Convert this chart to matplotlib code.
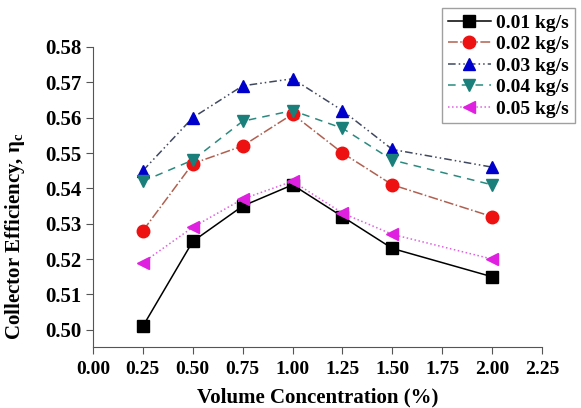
import numpy as np
import matplotlib.pyplot as plt

plt.rcParams['font.family'] = ['Liberation Serif', 'DejaVu Serif']
plt.rcParams['font.weight'] = 'bold'

conc = [0.25, 0.5, 0.75, 1.0, 1.25, 1.5, 2.0]
flow_labels = ['0.01 kg/s', '0.02 kg/s', '0.03 kg/s', '0.04 kg/s', '0.05 kg/s']
eff_001 = [0.501, 0.525, 0.535, 0.541, 0.532, 0.523, 0.515]
eff_002 = [0.528, 0.547, 0.552, 0.561, 0.550, 0.541, 0.532]
eff_003 = [0.545, 0.560, 0.569, 0.571, 0.562, 0.551, 0.546]
eff_004 = [0.542, 0.548, 0.559, 0.562, 0.557, 0.548, 0.541]
eff_005 = [0.519, 0.529, 0.537, 0.542, 0.533, 0.527, 0.520]

series = [eff_001, eff_002, eff_003, eff_004, eff_005]
markers = ['s', 'o', '^', 'v', '<']
mcolors = ['black', '#ee1111', '#0000cc', '#1a7f7a', '#e020e0']
lcolors = ['black', '#b06050', '#404860', '#2a8a80', '#e060e0']
styles = ['-', '-.', (0, (5, 2, 1, 2, 1, 2)), (0, (5, 4)), ':']

fig = plt.figure(figsize=(5.81, 4.08), dpi=100)
ax = fig.add_axes([0.16, 0.15, 0.773, 0.735])

for y, lab, m, mc, lc, ls in zip(series, flow_labels, markers, mcolors, lcolors, styles):
    ax.plot(conc, y, linestyle=ls, color=lc, linewidth=1.1, marker=m,
            markersize=9, markerfacecolor=mc, markeredgecolor=mc, label=lab)

ax.set_xlim(0, 2.25)
ax.set_ylim(0.4952, 0.58)
ax.set_xticks(np.arange(0, 2.26, 0.25))
ax.set_yticks(np.arange(0.50, 0.581, 0.01))
ax.xaxis.set_major_formatter(plt.FormatStrFormatter('%.2f'))
ax.yaxis.set_major_formatter(plt.FormatStrFormatter('%.2f'))
ax.spines['top'].set_visible(False)
ax.spines['right'].set_visible(False)
ax.spines['left'].set_bounds(0.4952, 0.58)
for s in ['left', 'bottom']:
    ax.spines[s].set_color('#555555')
ax.tick_params(colors='black', length=5, color='#555555')
ax.tick_params(axis='x', labelsize=14, pad=5)
ax.tick_params(axis='y', labelsize=15)

ax.set_xlabel('Volume Concentration (%)', fontsize=15, fontweight='bold')
ax.xaxis.set_label_coords(0.5, -0.135)
ax.set_ylabel(r'Collector Efficiency, $\mathregular{\eta_c}$', fontsize=15,
              fontweight='bold')
ax.yaxis.set_label_coords(-0.147, 0.37)

leg = ax.legend(loc='upper right', bbox_to_anchor=(0.99, 0.98),
                bbox_transform=fig.transFigure, fontsize=14,
                frameon=True, fancybox=False, handlelength=2.2, borderpad=0.3,
                labelspacing=0.2, handletextpad=0.3, borderaxespad=0)
leg.get_frame().set_edgecolor('#888888')
leg.get_frame().set_linewidth(1.0)

fig.savefig('out.png', dpi=100)
